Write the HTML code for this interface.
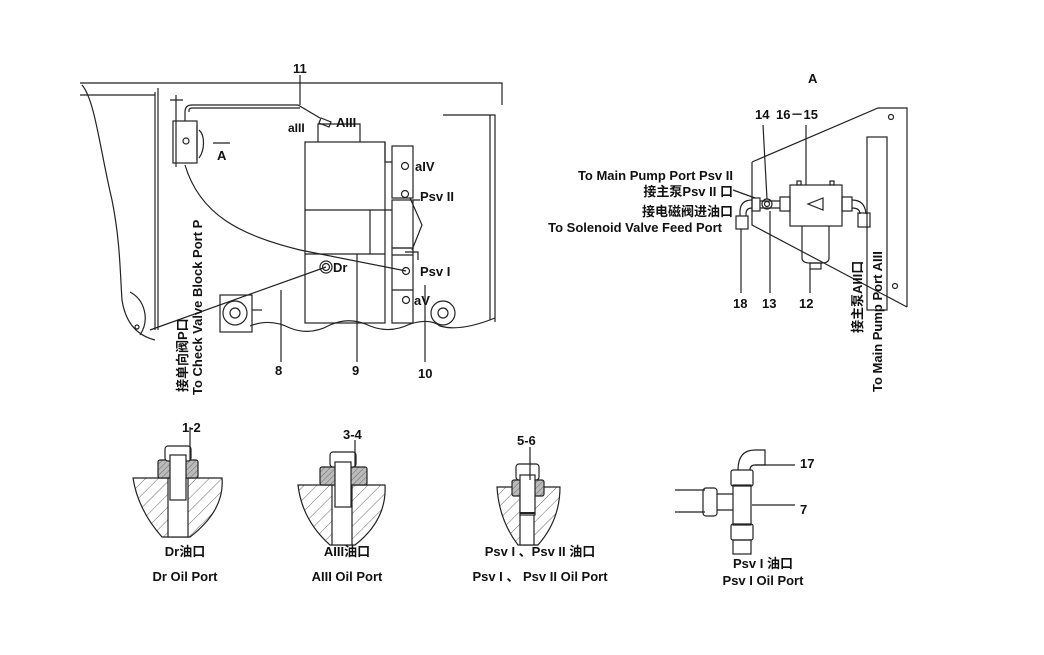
<!DOCTYPE html>
<html><head><meta charset="utf-8"><style>
html,body{margin:0;padding:0;background:#fff;}
svg{display:block;}
text{font-family:"Liberation Sans","Noto Sans CJK SC",sans-serif;font-weight:bold;fill:#111;}
</style></head><body>
<svg width="1044" height="655" viewBox="0 0 1044 655" xmlns="http://www.w3.org/2000/svg">
<defs>
<pattern id="h" width="9" height="9" patternUnits="userSpaceOnUse" patternTransform="rotate(45)">
<line x1="0" y1="0" x2="0" y2="9" stroke="#444" stroke-width="0.8"/></pattern>
<pattern id="h2" width="4" height="4" patternUnits="userSpaceOnUse" patternTransform="rotate(45)">
<rect width="4" height="4" fill="#bbb"/><line x1="0" y1="0" x2="0" y2="4" stroke="#555" stroke-width="0.8"/></pattern>
</defs>
<g fill="none" stroke="#222" stroke-width="1.2">
<path d="M80 83 L502 83 L502 105"/>
<path d="M155 92 L155 330 M158 88 L158 330"/>
<path d="M443 115 L495 115 L495 322 M490 115 L490 320"/>
<path d="M82 85 C95 100 100 150 112 200 C120 240 120 270 122 300 C125 320 135 335 155 340 M130 292 C145 300 150 320 140 335"/>
<circle cx="137" cy="327" r="2"/>
<path d="M80 95 L155 95"/>
<rect x="173" y="121" width="24" height="42"/>
<path d="M176 95 L176 167 M170 100 L183 100"/>
<circle cx="186" cy="141" r="3"/>
<path d="M197 125 L197 160 M199 130 C205 135 205 150 199 158"/>
<path d="M185 121 L185 112 Q185 105 192 105 L298 105 L320 118"/>
<path d="M189 112 L189 110 Q189 108 193 108 L300 108"/>
<path d="M213 143 L230 143"/>
<path d="M318 142 L318 124 L360 124 L360 142"/>
<rect x="305" y="142" width="80" height="181"/>
<path d="M305 210 L385 210 M305 254 L385 254 M370 210 L370 254 M385 142 L385 162 L392 162"/>
<rect x="392" y="146" width="21" height="52"/>
<rect x="392" y="200" width="21" height="48"/>
<rect x="392" y="248" width="21" height="75"/>
<path d="M392 210 L385 210 M392 255 L413 255 M392 290 L413 290 M413 200 L420 200 M405 252 L418 252 L418 260"/>
<circle cx="405" cy="166" r="3.5"/><circle cx="405" cy="194" r="3.5"/>
<circle cx="406" cy="271" r="3.5"/><circle cx="406" cy="300" r="3.5"/>
<circle cx="326" cy="267" r="6"/><circle cx="326" cy="267" r="3.5"/>
<path d="M321 118 L331 122 L329 127 L319 123 Z"/>
<path d="M185 165 C200 215 240 235 300 250 L406 271"/>
<path d="M326 267 L150 330"/>
<path d="M410 198 L422 225 L412 250"/>
<rect x="220" y="295" width="32" height="37"/>
<circle cx="235" cy="313" r="12"/><circle cx="235" cy="313" r="5"/>
<circle cx="443" cy="313" r="12"/><circle cx="443" cy="313" r="5"/>
<path d="M252 310 L262 310"/>
<path d="M250 326 Q270 318 290 328 Q310 336 330 325 Q350 316 370 326 Q390 334 410 324 Q430 318 440 326 Q460 332 495 318"/>
<path d="M281 290 L281 362 M357 254 L357 362 M425 285 L425 362"/>
<path d="M300 75 L300 105"/>

<path d="M752 162 L878 108 L907 108 L907 307 M752 162 L752 225 L907 307"/>
<rect x="867" y="137" width="20" height="173"/>
<circle cx="891" cy="117" r="2.5"/><circle cx="895" cy="286" r="2.5"/>
<rect x="790" y="185" width="52" height="41"/>
<path d="M823 198 L808 204 L823 210 Z"/>
<rect x="797" y="181" width="4" height="4"/><rect x="830" y="181" width="4" height="4"/>
<path d="M802 226 L802 258 Q802 263 810 263 L822 263 Q829 263 829 258 L829 226"/>
<rect x="810" y="263" width="11" height="6"/>
<rect x="780" y="197" width="10" height="14"/>
<rect x="842" y="197" width="10" height="14"/>
<circle cx="767" cy="204" r="5"/><circle cx="767" cy="204" r="2.5"/>
<rect x="752" y="198" width="8" height="13"/>
<path d="M760 201 L780 201 M760 208 L780 208"/>
<path d="M752 200 Q740 200 740 212 L740 216 M752 208 Q746 208 746 214 L746 216"/>
<rect x="736" y="216" width="12" height="13"/>
<path d="M852 200 Q865 200 866 214 M852 208 Q860 208 860 214"/>
<rect x="858" y="213" width="12" height="14"/>
<path d="M763 125 L767 199 M806 125 L806 185 M741 229 L741 293 M770 211 L770 293 M810 269 L810 293"/>
<path d="M733 190 L755 198"/>

<path d="M133 478 L222 478 Q225 510 190 537 L162 537 Q138 510 133 478 Z" fill="url(#h)"/>
<rect x="168" y="478" width="20" height="59" fill="#fff"/>
<rect x="158" y="460" width="40" height="18" rx="2" fill="url(#h2)"/>
<rect x="165" y="446" width="26" height="15" rx="3" fill="#fff"/>
<rect x="170" y="455" width="16" height="45" fill="#fff"/>
<path d="M190 427 L190 460"/>
<path d="M298 485 L385 485 Q387 520 355 545 L330 545 Q302 520 298 485 Z" fill="url(#h)"/>
<rect x="332" y="485" width="20" height="60" fill="#fff"/>
<rect x="320" y="467" width="47" height="18" rx="2" fill="url(#h2)"/>
<rect x="330" y="452" width="26" height="15" rx="3" fill="#fff"/>
<rect x="335" y="462" width="16" height="45" fill="#fff"/>
<path d="M355 440 L355 467"/>
<path d="M497 487 L560 487 Q560 520 538 545 L518 545 Q499 520 497 487 Z" fill="url(#h)"/>
<rect x="520" y="487" width="14" height="58" fill="#fff"/>
<rect x="512" y="480" width="32" height="16" rx="2" fill="url(#h2)"/>
<rect x="516" y="464" width="23" height="16" rx="3" fill="#fff"/>
<rect x="520" y="475" width="15" height="40" fill="#fff"/>
<path d="M520 513 L535 513" stroke-width="2"/>
<path d="M530 447 L530 480"/>
<path d="M675 490 L705 490 M675 512 L705 512"/>
<rect x="703" y="488" width="14" height="28" rx="3"/>
<path d="M717 494 L733 494 M717 510 L733 510"/>
<rect x="733" y="485" width="18" height="40"/>
<rect x="731" y="470" width="22" height="16" rx="2"/>
<rect x="731" y="524" width="22" height="16" rx="2"/>
<rect x="733" y="540" width="18" height="14"/>
<path d="M738 470 Q738 450 755 450 L765 450 L765 465 L755 465 Q750 465 750 470"/>
<path d="M755 465 L795 465 M752 505 L795 505"/>
</g>

<g font-size="13">
<text x="293" y="73">11</text>
<text x="288" y="132" font-size="12">aIII</text>
<text x="336" y="127">AIII</text>
<text x="217" y="160">A</text>
<text x="333" y="272">Dr</text>
<text x="415" y="171">aIV</text>
<text x="420" y="201">Psv II</text>
<text x="420" y="276">Psv I</text>
<text x="414" y="305">aV</text>
<text x="275" y="375">8</text>
<text x="352" y="375">9</text>
<text x="418" y="378">10</text>
<text transform="translate(187,392) rotate(-90)">接单向阀P口</text>
<text transform="translate(202,395) rotate(-90)">To Check Valve Block Port P</text>

<text x="808" y="83">A</text>
<text x="755" y="119">14</text>
<text x="776" y="119">16－15</text>
<text x="733" y="180" text-anchor="end">To Main Pump Port Psv II</text>
<text x="733" y="196" text-anchor="end">接主泵Psv II 口</text>
<text x="733" y="216" text-anchor="end">接电磁阀进油口</text>
<text x="722" y="232" text-anchor="end">To Solenoid Valve Feed Port</text>
<text x="733" y="308">18</text>
<text x="762" y="308">13</text>
<text x="799" y="308">12</text>
<text transform="translate(862,333) rotate(-90)">接主泵AIII口</text>
<text transform="translate(882,392) rotate(-90)">To Main Pump Port AIII</text>

<text x="182" y="432">1-2</text>
<text x="343" y="439">3-4</text>
<text x="517" y="445">5-6</text>
<text x="800" y="468">17</text>
<text x="800" y="514">7</text>
<text x="185" y="556" text-anchor="middle">Dr油口</text>
<text x="185" y="581" text-anchor="middle">Dr Oil Port</text>
<text x="347" y="556" text-anchor="middle">AIII油口</text>
<text x="347" y="581" text-anchor="middle">AIII Oil Port</text>
<text x="540" y="556" text-anchor="middle">Psv I 、Psv II 油口</text>
<text x="540" y="581" text-anchor="middle">Psv I 、 Psv II  Oil Port</text>
<text x="763" y="568" text-anchor="middle">Psv I 油口</text>
<text x="763" y="585" text-anchor="middle">Psv I  Oil Port</text>
</g>
</svg>
</body></html>
